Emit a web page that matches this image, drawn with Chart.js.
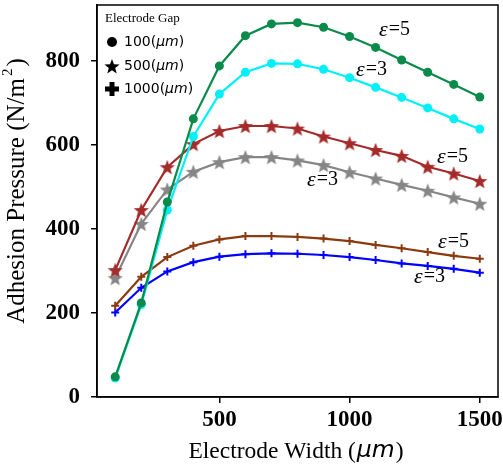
<!DOCTYPE html>
<html>
<head>
<meta charset="utf-8">
<script src="https://cdn.jsdelivr.net/npm/chart.js@4.4.0/dist/chart.umd.min.js"></script>
<style>
  body { margin: 0; background: #fff; }
  #wrap { width: 503px; height: 468px; }
</style>
</head>
<body>
<div id="wrap"><canvas id="myChart" width="503" height="468"></canvas></div>
<script>
/* dados */
var larguras = [100, 200, 300, 400, 500, 600, 700, 800, 900, 1000, 1100, 1200, 1300, 1400, 1500];

var gap100_eps5 = [48, 224, 464, 662, 788, 860, 888, 891, 880, 858, 832, 802, 773, 744, 714];
var gap100_eps3 = [45, 220, 445, 620, 721, 773, 794, 793, 780, 760, 737, 713, 688, 662, 638];
var gap500_eps5 = [302, 445, 547, 602, 633, 645, 645, 639, 620, 604, 588, 574, 548, 532, 514];
var gap500_eps3 = [283, 412, 494, 536, 559, 571, 571, 563, 552, 535, 520, 505, 491, 475, 460];
var gap1000_eps5 = [217, 286, 333, 360, 375, 383, 383, 381, 377, 371, 362, 354, 345, 336, 329];
var gap1000_eps3 = [201, 260, 299, 321, 334, 340, 342, 341, 338, 333, 326, 318, 312, 305, 296];

var ticksX = [500, 1000, 1500];
var ticksY = [0, 200, 400, 600, 800];
var legendaTitulo = 'Electrode Gap';
var legendaItens = ['100', '500', '1000'];

var serif = "'Liberation Serif', 'Times New Roman', serif";
var sans = "'DejaVu Sans', sans-serif";

function pontos(ys) {
  return larguras.map(function (x, i) { return { x: x, y: ys[i] }; });
}

// estrela de 5 pontas desenhada num canvas pequeno
function estrela(cor, r) {
  var c = document.createElement('canvas');
  var s = Math.ceil(r * 2 + 2);
  c.width = s; c.height = s;
  var g = c.getContext('2d');
  desenhaEstrela(g, s / 2, s / 2 + r * 0.1, r, cor);
  return c;
}

function desenhaEstrela(g, cx, cy, r, cor) {
  var ri = r * 0.42;
  g.beginPath();
  for (var i = 0; i < 10; i++) {
    var a = -Math.PI / 2 + i * Math.PI / 5;
    var rr = i % 2 === 0 ? r : ri;
    g.lineTo(cx + rr * Math.cos(a), cy + rr * Math.sin(a));
  }
  g.closePath();
  g.fillStyle = cor;
  g.fill();
}

function serie(ys, cor, tipo) {
  var ds = {
    data: pontos(ys),
    borderColor: cor,
    backgroundColor: cor,
    borderWidth: 2.2,
    tension: 0,
    pointBorderWidth: 0,
    pointHoverRadius: 5
  };
  if (tipo === 'circulo') {
    ds.pointStyle = 'circle';
    ds.pointRadius = 4.5;
  } else if (tipo === 'estrela') {
    ds.pointStyle = estrela(cor, 8);
    ds.pointRadius = 8;
  } else {
    ds.pointStyle = 'cross';
    ds.pointRadius = 4;
    ds.pointBorderWidth = 2;
  }
  return ds;
}

// tira o espaco extra que o Chart.js reserva para os rotulos das pontas
function semPadding(s) {
  s.paddingTop = 0; s.paddingBottom = 0; s.paddingLeft = 0; s.paddingRight = 0;
}

/* textos extras: titulos, legenda, rotulos de epsilon, moldura */
var extras = {
  id: 'extras',
  afterDraw: function (chart) {
    var ctx = chart.ctx;
    var a = chart.chartArea;
    ctx.save();

    // moldura
    ctx.strokeStyle = '#000';
    ctx.lineWidth = 1.5;
    ctx.strokeRect(a.left, a.top, a.right - a.left, a.bottom - a.top);

    ctx.fillStyle = '#000';
    ctx.textBaseline = 'middle';

    // titulo eixo x
    var p1 = 'Electrode Width (', p2 = '\u03bcm', p3 = ')';
    ctx.font = '23.5px ' + serif;
    var w1 = ctx.measureText(p1).width, w3 = ctx.measureText(p3).width;
    ctx.font = 'italic 23.5px ' + sans;
    var w2 = ctx.measureText(p2).width;
    var x0 = 295 - (w1 + w2 + w3) / 2;
    ctx.textAlign = 'left';
    ctx.font = '23.5px ' + serif;
    ctx.fillText(p1, x0, 452);
    ctx.font = 'italic 23.5px ' + sans;
    ctx.fillText(p2, x0 + w1 + 1, 451);
    ctx.font = '23.5px ' + serif;
    ctx.fillText(p3, x0 + w1 + w2 + 2, 452);

    // titulo eixo y
    ctx.save();
    ctx.translate(17, 191);
    ctx.rotate(-Math.PI / 2);
    var q1 = 'Adhesion Pressure (N/m', q2 = '2', q3 = ')';
    ctx.font = '25px ' + serif;
    var v1 = ctx.measureText(q1).width, v3 = ctx.measureText(q3).width;
    ctx.font = '15px ' + serif;
    var v2 = ctx.measureText(q2).width + 4;
    var y0 = -(v1 + v2 + v3) / 2;
    ctx.font = '25px ' + serif;
    ctx.fillText(q1, y0, 0);
    ctx.font = '15px ' + serif;
    ctx.fillText(q2, y0 + v1 + 2, -9);
    ctx.font = '25px ' + serif;
    ctx.fillText(q3, y0 + v1 + v2, 0);
    ctx.restore();

    // legenda
    ctx.font = '13px ' + serif;
    ctx.fillText(legendaTitulo, 105, 19);
    var ly = [42, 66, 89];
    // circulo
    ctx.beginPath();
    ctx.arc(112, ly[0], 5, 0, Math.PI * 2);
    ctx.fill();
    // estrela
    desenhaEstrela(ctx, 112, ly[1] + 1, 8, '#000');
    // cruz grossa
    ctx.fillRect(105, ly[2] - 2.5, 14, 5);
    ctx.fillRect(109.5, ly[2] - 7, 5, 14);
    for (var i = 0; i < legendaItens.length; i++) {
      var tx = 124;
      ctx.font = '14px ' + sans;
      ctx.fillText(legendaItens[i] + '(', tx, ly[i]);
      tx += ctx.measureText(legendaItens[i] + '(').width;
      ctx.font = 'italic 14px ' + sans;
      ctx.fillText('\u03bcm', tx, ly[i]);
      tx += ctx.measureText('\u03bcm').width;
      ctx.font = '14px ' + sans;
      ctx.fillText(')', tx, ly[i]);
    }

    // rotulos epsilon
    var rotulos = [
      ['5', 379, 30], ['3', 356, 70], ['5', 437, 157],
      ['3', 307, 180], ['5', 438, 242], ['3', 414, 277]
    ];
    rotulos.forEach(function (r) {
      ctx.font = 'italic 22px ' + serif;
      ctx.fillText('\u03b5', r[1], r[2]);
      var we = ctx.measureText('\u03b5').width;
      ctx.font = '20px ' + serif;
      ctx.fillText('=' + r[0], r[1] + we + 1, r[2]);
    });

    ctx.restore();
  }
};

var ctx = document.getElementById('myChart').getContext('2d');
var myChart = new Chart(ctx, {
  type: 'line',
  data: {
    datasets: [
      serie(gap100_eps5, '#0a8b4b', 'circulo'),
      serie(gap100_eps3, '#00f0f8', 'circulo'),
      serie(gap500_eps5, '#a52a2a', 'estrela'),
      serie(gap500_eps3, '#868686', 'estrela'),
      serie(gap1000_eps5, '#8b3a10', 'cruz'),
      serie(gap1000_eps3, '#0000ff', 'cruz')
    ]
  },
  plugins: [extras],
  options: {
    responsive: false,
    animation: false,
    layout: { autoPadding: false, padding: { left: 0, right: 5, top: 5, bottom: 0 } },
    plugins: { legend: { display: false }, tooltip: { enabled: false } },
    scales: {
      x: {
        type: 'linear',
        min: 30,
        max: 1570,
        afterBuildTicks: function (s) { s.ticks = ticksX.map(function (v) { return { value: v }; }); },
        afterFit: function (s) { s.height = 71; semPadding(s); },
        grid: { drawOnChartArea: false, drawTicks: true, tickLength: 6, color: '#000', lineWidth: 1.5 },
        border: { color: '#000', width: 1.5 },
        ticks: {
          color: '#000', padding: 3, maxRotation: 0,
          font: { family: serif, size: 23, weight: 'bold' },
          callback: function (v) { return String(v); }
        }
      },
      y: {
        min: 0,
        max: 933,
        afterBuildTicks: function (s) { s.ticks = ticksY.map(function (v) { return { value: v }; }); },
        afterFit: function (s) { s.width = 97; semPadding(s); },
        grid: { drawOnChartArea: false, drawTicks: true, tickLength: 6, color: '#000', lineWidth: 1.5 },
        border: { color: '#000', width: 1.5 },
        ticks: {
          color: '#000', padding: 11,
          font: { family: serif, size: 23, weight: 'bold' },
          callback: function (v) { return String(v); }
        }
      }
    }
  }
});
</script>
</body>
</html>
